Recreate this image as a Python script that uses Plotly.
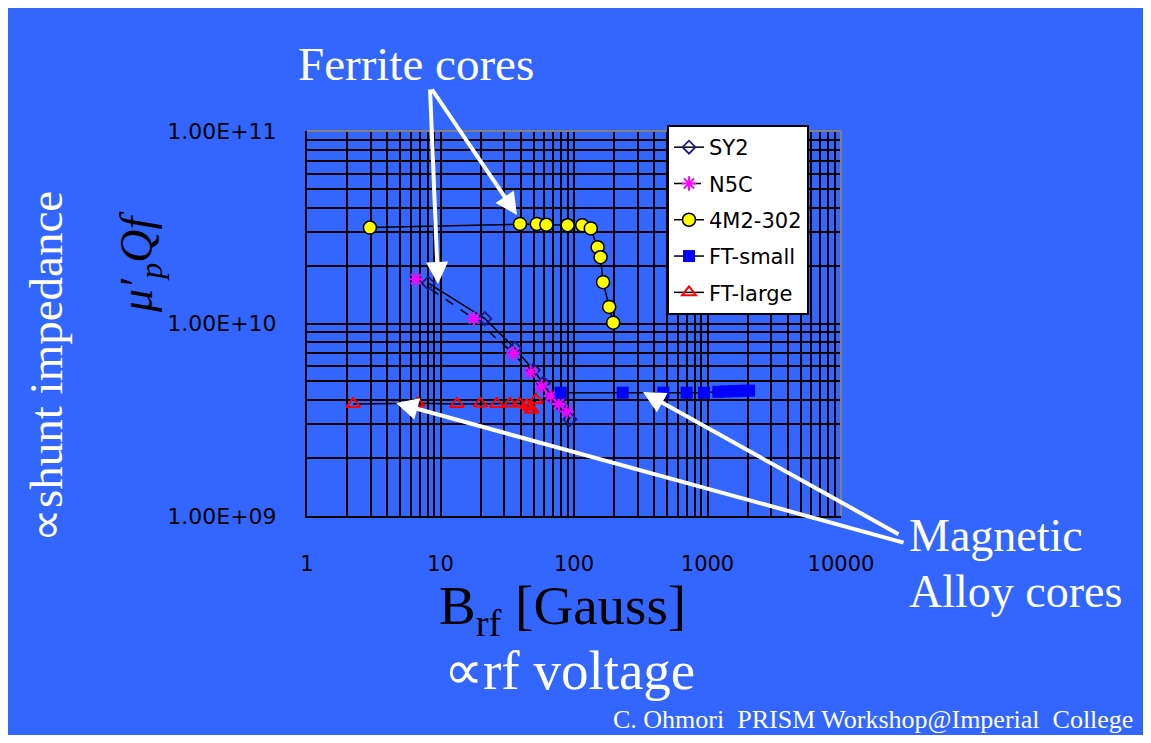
import plotly.graph_objects as go

# ---------------- data ----------------
sy2_x = [8.1, 21.5, 36.1, 49.6, 58.9, 68.4, 78.5, 93.3]
sy2_y = [1.62e10, 1.06e10, 7.43e9, 5.73e9, 4.89e9, 4.15e9, 3.77e9, 3.18e9]

n5c_x = [6.55, 17.8, 35.1, 47.4, 57.3, 66.9, 76.9, 88.2]
n5c_y = [1.70e10, 1.06e10, 7.0e9, 5.58e9, 4.70e9, 4.20e9, 3.82e9, 3.48e9]

m4_x = [2.96, 39.4, 52.7, 62.1, 89.6, 115.3, 133.6, 150.2, 158.0, 165.1, 183.4, 196.6]
m4_y = [3.15e10, 3.29e10, 3.29e10, 3.26e10, 3.24e10, 3.24e10, 3.12e10, 2.49e10,
        2.21e10, 1.64e10, 1.22e10, 1.01e10]

fts_x = [79.5, 231.6, 467, 698, 941, 1205, 1376, 1553, 1722, 1877, 2046]
fts_y = [4.37e9, 4.37e9, 4.37e9, 4.37e9, 4.37e9, 4.42e9, 4.44e9, 4.45e9, 4.46e9,
         4.47e9, 4.48e9]

ftl_x = [2.22, 6.75, 13.3, 19.9, 26.4, 33.2, 39.1, 44.2, 46.8, 48.2, 51.9]
ftl_y = [3.82e9, 3.85e9, 3.82e9, 3.84e9, 3.82e9, 3.84e9, 3.84e9, 3.77e9, 3.68e9,
         3.56e9, 4.01e9]

series_names = ["SY2", "N5C", "4M2-302", "FT-small", "FT-large"]

x_tickvals = [1, 10, 100, 1000, 10000]
x_ticktext = ["1", "10", "100", "1000", "10000"]
y_tickvals = [1e9, 1e10, 1e11]
y_ticktext = ["1.00E+09", "1.00E+10", "1.00E+11"]

# ---------------- layout helpers ----------------
OFF = 8                      # page body margin
W, H = 1135, 727
L, R, T, B = 307 - OFF, 841 - OFF, 131 - OFF, 516 - OFF
BG = "#3366FF"
SERIF = "Liberation Serif, Times New Roman, serif"
SANS = "DejaVu Sans, Verdana, sans-serif"


def P(px, py):
    """screen pixel position -> paper coordinates"""
    px -= OFF
    py -= OFF
    return (px - L) / (R - L), (B - py) / (B - T)


fig = go.Figure()

fig.add_trace(go.Scatter(
    x=sy2_x, y=sy2_y, name=series_names[0], mode="lines+markers",
    line=dict(color="black", width=1.5),
    marker=dict(symbol="diamond-open", size=10, color="#1a1a8c", line=dict(width=1.8)),
    legendgroup="a"))
fig.add_trace(go.Scatter(
    x=n5c_x, y=n5c_y, name=series_names[1], mode="lines+markers",
    line=dict(color="black", width=1.5, dash="dash"),
    marker=dict(symbol="asterisk-open", size=12, color="#FF00FF", line=dict(width=2, color="#FF00FF")),
    legendgroup="b"))
fig.add_trace(go.Scatter(
    x=m4_x, y=m4_y, name=series_names[2], mode="lines+markers",
    line=dict(color="black", width=1.5),
    marker=dict(symbol="circle", size=13, color="#FFFF00", line=dict(width=1.5, color="black")),
    legendgroup="c"))
fig.add_trace(go.Scatter(
    x=fts_x, y=fts_y, name=series_names[3], mode="lines+markers",
    line=dict(color="black", width=1.5),
    marker=dict(symbol="square", size=12, color="#0000FF", line=dict(width=0)),
    legendgroup="d"))
fig.add_trace(go.Scatter(
    x=ftl_x, y=ftl_y, name=series_names[4], mode="lines+markers",
    line=dict(color="black", width=1.5),
    marker=dict(symbol="triangle-up-open", size=12, color="#FF0000", line=dict(width=2)),
    legendgroup="e"))

fig.update_xaxes(
    type="log", range=[0, 4], showgrid=True, gridcolor="black", gridwidth=1.8,
    minor=dict(dtick="D1", showgrid=True, gridcolor="black", gridwidth=1.6, ticks=""),
    tickvals=x_tickvals, ticktext=x_ticktext,
    showline=True, linecolor="black", linewidth=2, ticks="",
    tickfont=dict(family=SANS, size=21, color="black"), ticklabelstandoff=28,
    zeroline=False)
fig.update_yaxes(
    type="log", range=[9, 11], showgrid=True, gridcolor="black", gridwidth=1.8,
    minor=dict(dtick="D1", showgrid=True, gridcolor="black", gridwidth=1.6, ticks=""),
    tickvals=y_tickvals, ticktext=y_ticktext,
    showline=True, linecolor="black", linewidth=2, ticks="",
    tickfont=dict(family=SANS, size=22, color="black"), ticklabelstandoff=24,
    zeroline=False)

lx, ly = P(667, 125)
fig.update_layout(
    width=W, height=H,
    margin=dict(l=L, r=W - R, t=T, b=H - B),
    paper_bgcolor=BG, plot_bgcolor=BG,
    showlegend=True,
    legend=dict(x=lx, y=ly, xanchor="left", yanchor="top",
                bgcolor="white", bordercolor="black", borderwidth=2,
                font=dict(family=SANS, size=21, color="black"),
                tracegroupgap=6),
)

# gray top/right frame
fig.add_shape(type="line", xref="paper", yref="paper", x0=0, x1=1, y0=1, y1=1,
              line=dict(color="#808080", width=2))
fig.add_shape(type="line", xref="paper", yref="paper", x0=1, x1=1, y0=0, y1=1,
              line=dict(color="#808080", width=2))

anns = []


def text(px, py, s, size, color, family=SERIF, xanchor="center", yanchor="middle", angle=0):
    x, y = P(px, py)
    anns.append(dict(x=x, y=y, xref="paper", yref="paper", text=s, showarrow=False,
                     xanchor=xanchor, yanchor=yanchor, textangle=angle,
                     font=dict(family=family, size=size, color=color)))


def arrow(sx, sy, tx, ty):
    x, y = P(tx, ty)
    anns.append(dict(x=x, y=y, xref="paper", yref="paper", text="", showarrow=True,
                     ax=sx - tx, ay=sy - ty, axref="pixel", ayref="pixel",
                     arrowhead=2, arrowsize=1.1, arrowwidth=4, arrowcolor="white", standoff=0))


text(416, 64, "Ferrite cores", 47, "white")
text(907, 535, "Magnetic", 46, "white", xanchor="left")
text(907, 591, "Alloy cores", 46, "white", xanchor="left")
text(562, 609, "B<sub>rf</sub> [Gauss]", 55, "black")
text(569, 670, "∝rf voltage", 55, "white")
text(46, 367, "∝shunt impedance", 47, "white", angle=-90)
text(140, 262, "<i>μ′<sub>p</sub>Qf</i>", 46, "black", angle=-90)
text(1135, 719, "C. Ohmori  PRISM Workshop@Imperial  College", 26, "white", xanchor="right")

arrow(431, 88, 517, 215)
arrow(430, 88, 438, 284)
arrow(905, 543, 396, 403)
arrow(900, 535, 643, 392)

fig.update_layout(annotations=anns)

fig.write_html("out.html")
